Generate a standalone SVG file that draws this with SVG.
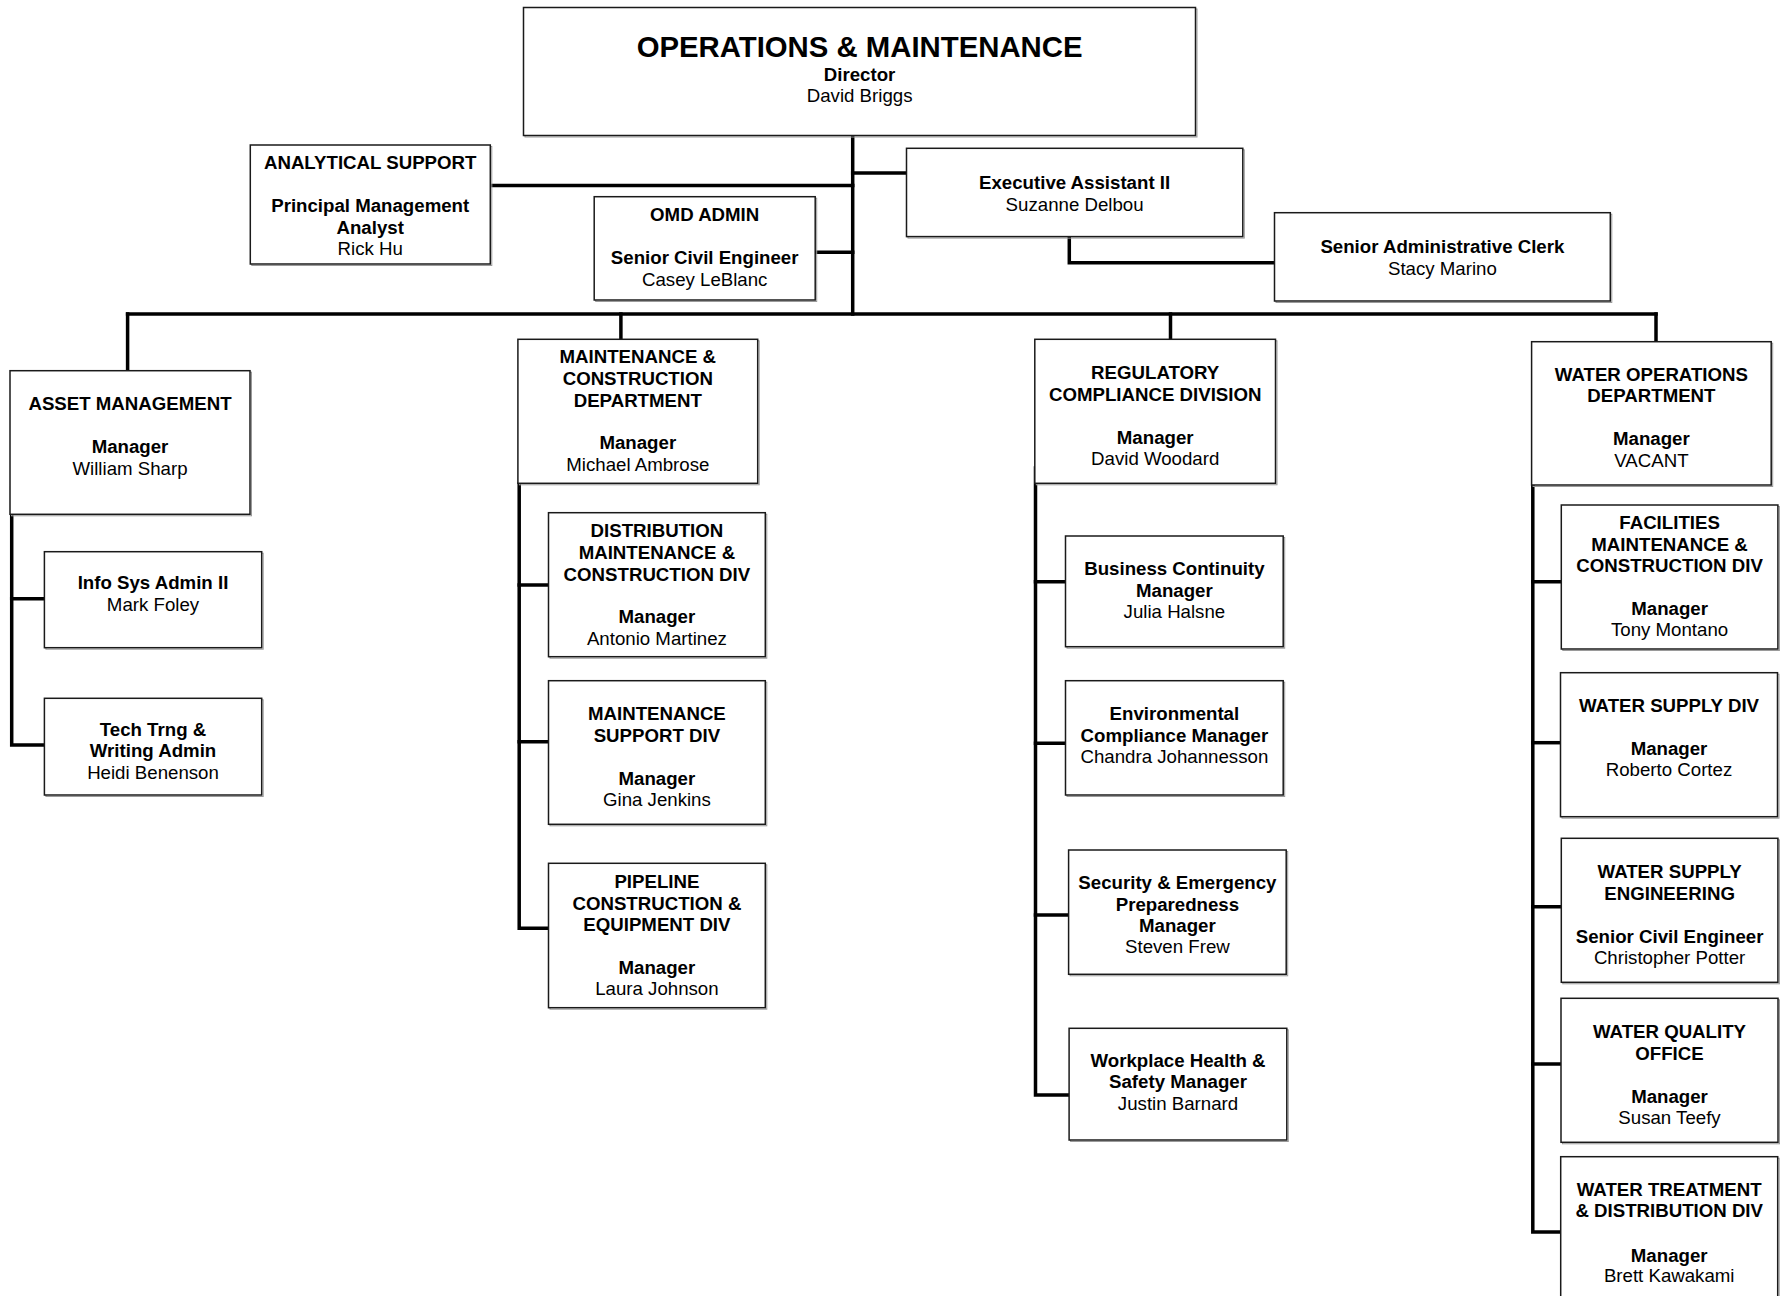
<svg xmlns="http://www.w3.org/2000/svg" width="1783" height="1296" viewBox="0 0 1783 1296">
<style>
  .box { fill: #fff; stroke: #1a1a1a; stroke-width: 1.5; }
  .sh { fill: none; stroke: #9a9a9a; stroke-width: 1; }
  .con { fill: none; stroke: #000; stroke-width: 3.5; stroke-linejoin: miter; stroke-linecap: square; }
  text { font-family: "Liberation Sans", Arial, sans-serif; font-size: 18.67px; fill: #000; text-anchor: middle; }
  .b { font-weight: bold; }
  .t { font-weight: bold; font-size: 29.33px; }
</style>
<rect width="1783" height="1296" fill="#fff"/>
<g id="connectors">
  <path class="con" d="M852.7,136 V314"/>
  <path class="con" d="M490.2,185.5 H852.7"/>
  <path class="con" d="M815.2,252.3 H852.7"/>
  <path class="con" d="M852.7,173 H906.5"/>
  <path class="con" d="M1069.3,237 V262.7 H1274.5"/>
  <path class="con" d="M127.6,314 H1656"/>
  <path class="con" d="M127.6,314 V370.7"/>
  <path class="con" d="M620.9,314 V339.3"/>
  <path class="con" d="M1170.5,314 V339.3"/>
  <path class="con" d="M1656,314 V341.7"/>
  <path class="con" d="M11.7,488 V745 H44.4"/>
  <path class="con" d="M11.7,598.8 H44.4"/>
  <path class="con" d="M519.2,484 V928.3 H548.5"/>
  <path class="con" d="M519.2,585 H548.5"/>
  <path class="con" d="M519.2,741.7 H548.5"/>
  <path class="con" d="M1035.5,468 V1095 H1069.1"/>
  <path class="con" d="M1035.5,581.7 H1065.5"/>
  <path class="con" d="M1035.5,743.3 H1065.5"/>
  <path class="con" d="M1035.5,915 H1068.6"/>
  <path class="con" d="M1532.8,486 V1232 H1560.7"/>
  <path class="con" d="M1532.8,581.7 H1561.3"/>
  <path class="con" d="M1532.8,742.7 H1560.5"/>
  <path class="con" d="M1532.8,906.7 H1561.3"/>
  <path class="con" d="M1532.8,1064 H1561"/>
</g>
<g id="n-director">
  <rect class="sh" x="525" y="9" width="672" height="128"/>
  <rect class="box" x="523.5" y="7.5" width="672" height="128"/>
  <text class="t" x="859.6" y="57.3">OPERATIONS &amp; MAINTENANCE</text>
  <text class="b" x="859.6" y="81">Director</text>
  <text x="859.6" y="101.7">David Briggs</text>
</g>
<g id="n-analytical">
  <rect class="sh" x="251.8" y="146.5" width="240" height="119"/>
  <rect class="box" x="250.3" y="145" width="240" height="119"/>
  <text class="b" x="370.2" y="169.3">ANALYTICAL SUPPORT</text>
  <text class="b" x="370.2" y="212.3">Principal Management</text>
  <text class="b" x="370.2" y="233.8">Analyst</text>
  <text x="370.2" y="255.3">Rick Hu</text>
</g>
<g id="n-omd">
  <rect class="sh" x="595.7" y="198.2" width="221" height="103.3"/>
  <rect class="box" x="594.2" y="196.7" width="221" height="103.3"/>
  <text class="b" x="704.7" y="221">OMD ADMIN</text>
  <text class="b" x="704.7" y="264.3">Senior Civil Engineer</text>
  <text x="704.7" y="285.5">Casey LeBlanc</text>
</g>
<g id="n-exec">
  <rect class="sh" x="908" y="149.8" width="336.3" height="88.3"/>
  <rect class="box" x="906.5" y="148.3" width="336.3" height="88.3"/>
  <text class="b" x="1074.6" y="189.3">Executive Assistant II</text>
  <text x="1074.6" y="210.5">Suzanne Delbou</text>
</g>
<g id="n-clerk">
  <rect class="sh" x="1276" y="214.2" width="335.8" height="88.3"/>
  <rect class="box" x="1274.5" y="212.7" width="335.8" height="88.3"/>
  <text class="b" x="1442.4" y="253.3">Senior Administrative Clerk</text>
  <text x="1442.4" y="274.5">Stacy Marino</text>
</g>
<g id="n-asset">
  <rect class="sh" x="11.5" y="372.2" width="240" height="143.6"/>
  <rect class="box" x="10" y="370.7" width="240" height="143.6"/>
  <text class="b" x="130" y="410">ASSET MANAGEMENT</text>
  <text class="b" x="130" y="453.3">Manager</text>
  <text x="130" y="474.5">William Sharp</text>
</g>
<g id="n-infosys">
  <rect class="sh" x="45.9" y="553.2" width="217.3" height="96"/>
  <rect class="box" x="44.4" y="551.7" width="217.3" height="96"/>
  <text class="b" x="153" y="589.3">Info Sys Admin II</text>
  <text x="153" y="610.5">Mark Foley</text>
</g>
<g id="n-techtrng">
  <rect class="sh" x="45.9" y="699.8" width="217.3" height="96.7"/>
  <rect class="box" x="44.4" y="698.3" width="217.3" height="96.7"/>
  <text class="b" x="153" y="736">Tech Trng &amp;</text>
  <text class="b" x="153" y="757.3">Writing Admin</text>
  <text x="153" y="778.5">Heidi Benenson</text>
</g>
<g id="n-mcdept">
  <rect class="sh" x="519.4" y="340.8" width="239.8" height="144"/>
  <rect class="box" x="517.9" y="339.3" width="239.8" height="144"/>
  <text class="b" x="637.8" y="363.3">MAINTENANCE &amp;</text>
  <text class="b" x="637.8" y="385">CONSTRUCTION</text>
  <text class="b" x="637.8" y="406.7">DEPARTMENT</text>
  <text class="b" x="637.8" y="449.3">Manager</text>
  <text x="637.8" y="470.7">Michael Ambrose</text>
</g>
<g id="n-distribution">
  <rect class="sh" x="550" y="514.2" width="216.8" height="144"/>
  <rect class="box" x="548.5" y="512.7" width="216.8" height="144"/>
  <text class="b" x="656.9" y="537.3">DISTRIBUTION</text>
  <text class="b" x="656.9" y="559">MAINTENANCE &amp;</text>
  <text class="b" x="656.9" y="580.5">CONSTRUCTION DIV</text>
  <text class="b" x="656.9" y="623.3">Manager</text>
  <text x="656.9" y="644.5">Antonio Martinez</text>
</g>
<g id="n-maintsupport">
  <rect class="sh" x="550" y="682.2" width="216.8" height="143.6"/>
  <rect class="box" x="548.5" y="680.7" width="216.8" height="143.6"/>
  <text class="b" x="656.9" y="720">MAINTENANCE</text>
  <text class="b" x="656.9" y="741.7">SUPPORT DIV</text>
  <text class="b" x="656.9" y="785">Manager</text>
  <text x="656.9" y="806.3">Gina Jenkins</text>
</g>
<g id="n-pipeline">
  <rect class="sh" x="550" y="864.8" width="216.8" height="144.4"/>
  <rect class="box" x="548.5" y="863.3" width="216.8" height="144.4"/>
  <text class="b" x="656.9" y="888.3">PIPELINE</text>
  <text class="b" x="656.9" y="909.7">CONSTRUCTION &amp;</text>
  <text class="b" x="656.9" y="931">EQUIPMENT DIV</text>
  <text class="b" x="656.9" y="973.5">Manager</text>
  <text x="656.9" y="995">Laura Johnson</text>
</g>
<g id="n-regulatory">
  <rect class="sh" x="1036.3" y="340.8" width="240.7" height="144"/>
  <rect class="box" x="1034.8" y="339.3" width="240.7" height="144"/>
  <text class="b" x="1155.2" y="379.3">REGULATORY</text>
  <text class="b" x="1155.2" y="400.5">COMPLIANCE DIVISION</text>
  <text class="b" x="1155.2" y="444">Manager</text>
  <text x="1155.2" y="465.3">David Woodard</text>
</g>
<g id="n-business">
  <rect class="sh" x="1067" y="537.5" width="217.7" height="110.7"/>
  <rect class="box" x="1065.5" y="536" width="217.7" height="110.7"/>
  <text class="b" x="1174.4" y="575">Business Continuity</text>
  <text class="b" x="1174.4" y="596.7">Manager</text>
  <text x="1174.4" y="617.7">Julia Halsne</text>
</g>
<g id="n-environmental">
  <rect class="sh" x="1067" y="682.2" width="217.7" height="114.3"/>
  <rect class="box" x="1065.5" y="680.7" width="217.7" height="114.3"/>
  <text class="b" x="1174.4" y="720">Environmental</text>
  <text class="b" x="1174.4" y="741.7">Compliance Manager</text>
  <text x="1174.4" y="762.7">Chandra Johannesson</text>
</g>
<g id="n-security">
  <rect class="sh" x="1070.1" y="851.5" width="217.6" height="124.3"/>
  <rect class="box" x="1068.6" y="850" width="217.6" height="124.3"/>
  <text class="b" x="1177.4" y="889.3">Security &amp; Emergency</text>
  <text class="b" x="1177.4" y="910.7">Preparedness</text>
  <text class="b" x="1177.4" y="931.7">Manager</text>
  <text x="1177.4" y="953.3">Steven Frew</text>
</g>
<g id="n-workplace">
  <rect class="sh" x="1070.6" y="1029.8" width="217.7" height="111.7"/>
  <rect class="box" x="1069.1" y="1028.3" width="217.7" height="111.7"/>
  <text class="b" x="1178" y="1067.3">Workplace Health &amp;</text>
  <text class="b" x="1178" y="1088.3">Safety Manager</text>
  <text x="1178" y="1110">Justin Barnard</text>
</g>
<g id="n-waterops">
  <rect class="sh" x="1533.1" y="343.2" width="239.6" height="143.3"/>
  <rect class="box" x="1531.6" y="341.7" width="239.6" height="143.3"/>
  <text class="b" x="1651.4" y="381">WATER OPERATIONS</text>
  <text class="b" x="1651.4" y="402">DEPARTMENT</text>
  <text class="b" x="1651.4" y="445">Manager</text>
  <text x="1651.4" y="466.7">VACANT</text>
</g>
<g id="n-facilities">
  <rect class="sh" x="1562.8" y="506.5" width="216.6" height="144"/>
  <rect class="box" x="1561.3" y="505" width="216.6" height="144"/>
  <text class="b" x="1669.6" y="529.3">FACILITIES</text>
  <text class="b" x="1669.6" y="550.7">MAINTENANCE &amp;</text>
  <text class="b" x="1669.6" y="571.7">CONSTRUCTION DIV</text>
  <text class="b" x="1669.6" y="615">Manager</text>
  <text x="1669.6" y="636.3">Tony Montano</text>
</g>
<g id="n-watersupplydiv">
  <rect class="sh" x="1562" y="674.2" width="217" height="144"/>
  <rect class="box" x="1560.5" y="672.7" width="217" height="144"/>
  <text class="b" x="1669" y="712.3">WATER SUPPLY DIV</text>
  <text class="b" x="1669" y="755">Manager</text>
  <text x="1669" y="776.3">Roberto Cortez</text>
</g>
<g id="n-watersupplyeng">
  <rect class="sh" x="1562.8" y="839.8" width="216.6" height="144"/>
  <rect class="box" x="1561.3" y="838.3" width="216.6" height="144"/>
  <text class="b" x="1669.6" y="878.3">WATER SUPPLY</text>
  <text class="b" x="1669.6" y="899.5">ENGINEERING</text>
  <text class="b" x="1669.6" y="942.7">Senior Civil Engineer</text>
  <text x="1669.6" y="963.7">Christopher Potter</text>
</g>
<g id="n-waterquality">
  <rect class="sh" x="1562.5" y="999.8" width="217" height="144"/>
  <rect class="box" x="1561" y="998.3" width="217" height="144"/>
  <text class="b" x="1669.5" y="1038.3">WATER QUALITY</text>
  <text class="b" x="1669.5" y="1059.5">OFFICE</text>
  <text class="b" x="1669.5" y="1102.7">Manager</text>
  <text x="1669.5" y="1123.7">Susan Teefy</text>
</g>
<g id="n-watertreatment">
  <rect class="sh" x="1562.2" y="1158.2" width="217" height="145"/>
  <rect class="box" x="1560.7" y="1156.7" width="217" height="145"/>
  <text class="b" x="1669.2" y="1196">WATER TREATMENT</text>
  <text class="b" x="1669.2" y="1217.3">&amp; DISTRIBUTION DIV</text>
  <text class="b" x="1669.2" y="1261.7">Manager</text>
  <text x="1669.2" y="1282">Brett Kawakami</text>
</g>
</svg>
